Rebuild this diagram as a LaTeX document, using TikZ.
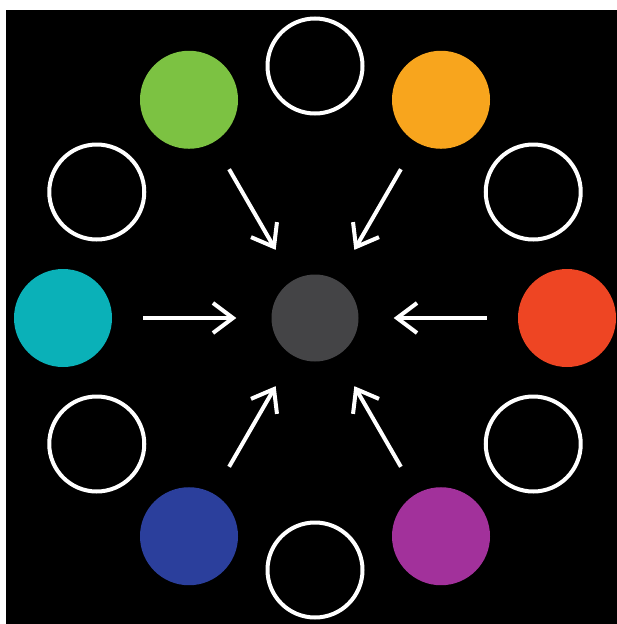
\documentclass[tikz,border=0pt]{standalone}
\usepackage{xcolor}
\usepackage{tikz}
\usetikzlibrary{arrows.meta}

\definecolor{hubgray}{HTML}{444446}
\definecolor{dotgreen}{HTML}{7CC242}
\definecolor{dotorange}{HTML}{F8A51D}
\definecolor{dotred}{HTML}{EE4523}
\definecolor{dotpurple}{HTML}{A2319B}
\definecolor{dotblue}{HTML}{2B3F9C}
\definecolor{dotcyan}{HTML}{0AB1B8}

\begin{document}
\begin{tikzpicture}[
  x=1pt, y=-1pt,
  dot/.style={circle, inner sep=0pt, minimum size=98pt},
  ring/.style={circle, inner sep=0pt, minimum size=95pt, draw=white, line width=4pt},
  arr/.style={-{Straight Barb[length=20pt, width=30pt]}, draw=white, line width=4pt,
              shorten <=31pt, shorten >=35pt}
]
  \useasboundingbox (0,0) rectangle (617,624);
  \fill[black] (6,10) rectangle (617,624);

  \node[circle, inner sep=0pt, minimum size=87pt, fill=hubgray] (hub) at (315,318) {};

  % coloured dots
  \foreach \ang/\col/\name in {120/dotgreen/green, 60/dotorange/orange, 0/dotred/red,
                               -60/dotpurple/purple, -120/dotblue/blue, 180/dotcyan/cyan}
    \node[dot, fill=\col] (\name) at ([shift={(\ang:252pt)}]hub) {};

  % empty rings
  \foreach \ang/\name in {90/ringN, 30/ringNE, -30/ringSE, -90/ringS, -150/ringSW, 150/ringNW}
    \node[ring] (\name) at ([shift={(\ang:252pt)}]hub) {};

  \foreach \name in {green, orange, red, purple, blue, cyan}
    \draw[arr] (\name) -- (hub);
\end{tikzpicture}
\end{document}
